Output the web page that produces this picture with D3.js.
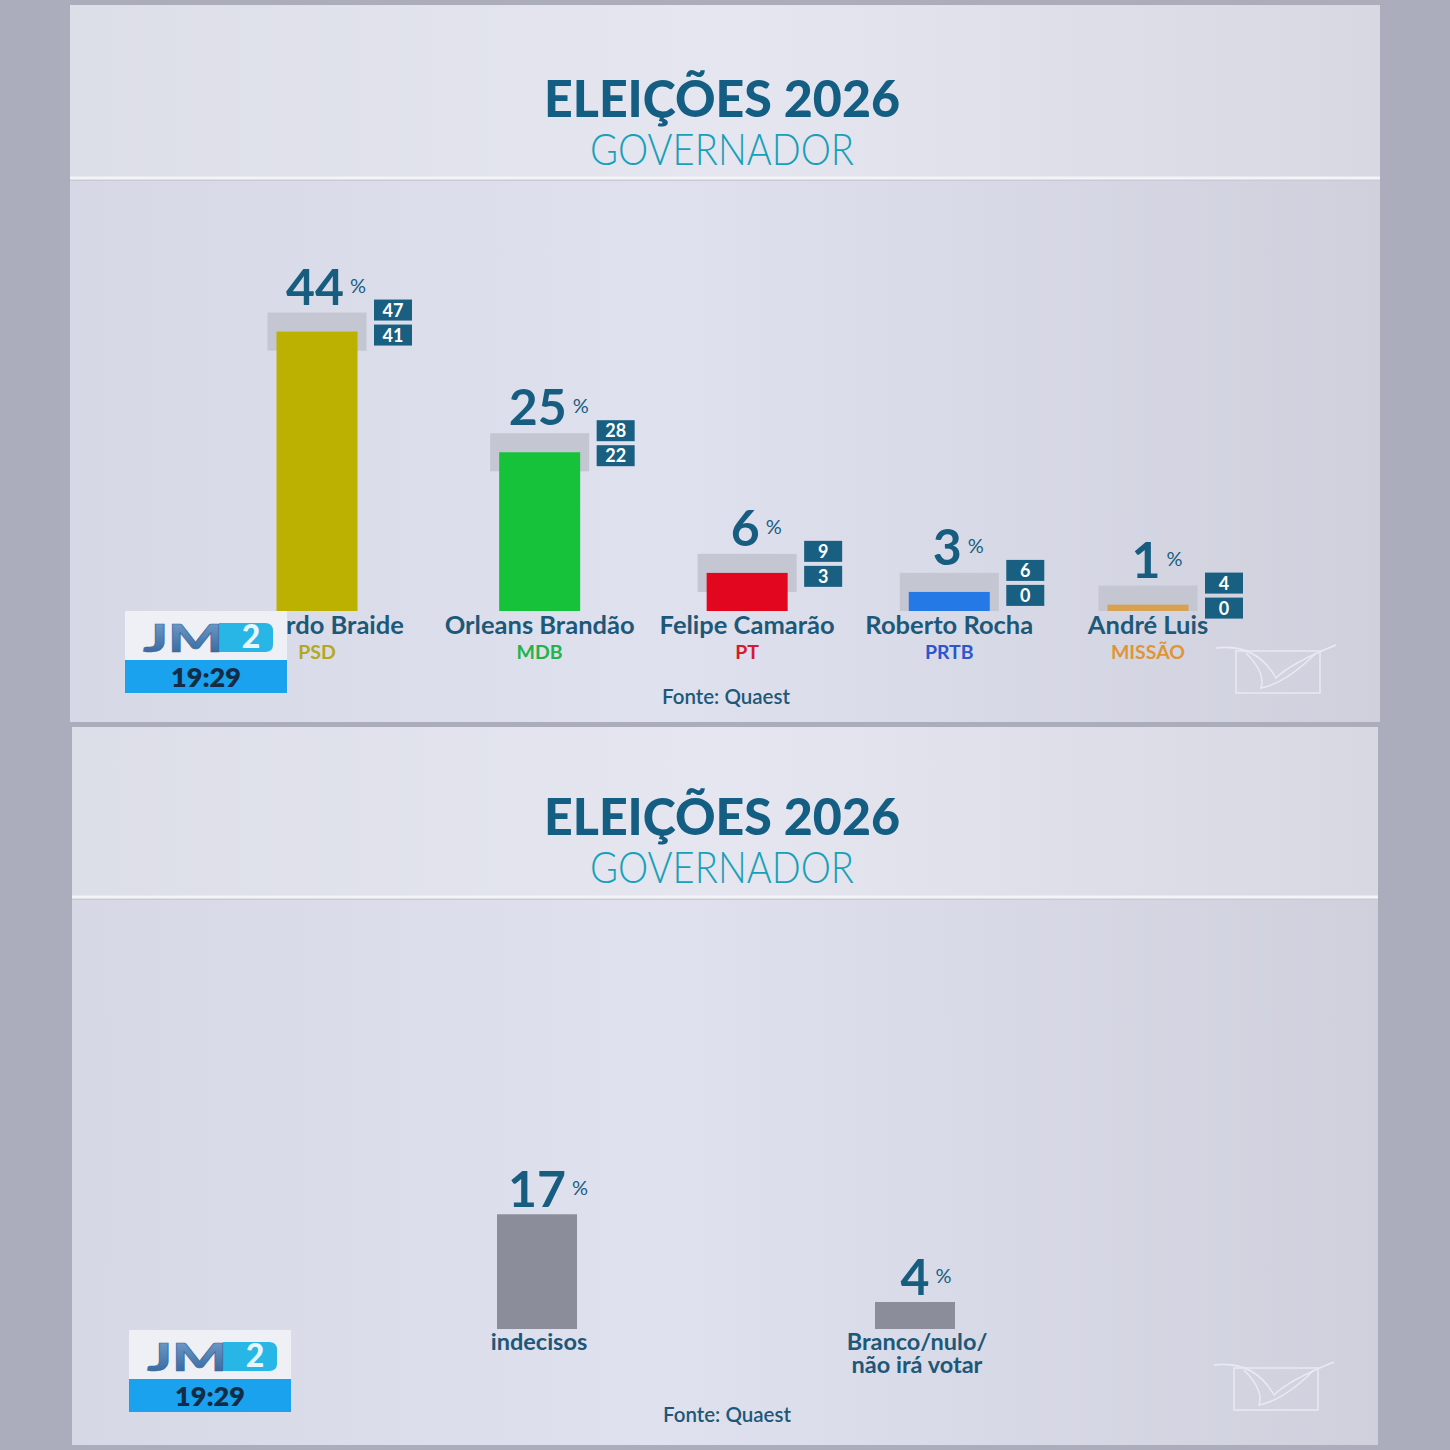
<!DOCTYPE html>
<html><head><meta charset="utf-8">
<script src="https://cdn.jsdelivr.net/npm/d3@7"></script>
<style>body{margin:0;background:#abadbd}svg{display:block}</style>
</head><body>
<svg id="c" width="1450" height="1450"></svg>
<script>
// ---- data ----
const candidates = ["Eduardo Braide","Orleans Brandão","Felipe Camarão","Roberto Rocha","André Luis"];
const parties = ["PSD","MDB","PT","PRTB","MISSÃO"];
const values = [44,25,6,3,1];
const upperBound = [47,28,9,6,4];
const lowerBound = [41,22,3,0,0];
const otherCats = ["indecisos","Branco/nulo/não irá votar"];
const otherLines = [["indecisos"],["Branco/nulo/","não irá votar"]];
const otherValues = [17,4];
const titleText = "ELEIÇÕES 2026";
const subtitleText = "GOVERNADOR";
const sourceText = "Fonte: Quaest";
const clockText = "19:29";

// ---- styles ----
const barColors = ["#bcb000","#17c23b","#e2061e","#2479e6","#d8a150"];
const partyColors = ["#b3a824","#22b34a","#d51a30","#2d55cc","#df9535"];
const navy = "#175d80";
const font = "Lato, 'Noto Sans', sans-serif";

const svg = d3.select("#c");
const defs = svg.append("defs");
const g1 = defs.append("linearGradient").attr("id","bg").attr("x1","0").attr("x2","1").attr("y1","0").attr("y2","0");
g1.append("stop").attr("offset","0").attr("stop-color","#d6d8e6");
g1.append("stop").attr("offset","0.45").attr("stop-color","#e0e1ef");
g1.append("stop").attr("offset","1").attr("stop-color","#cfd0dc");
const g2 = defs.append("linearGradient").attr("id","hd").attr("x1","0").attr("x2","1");
g2.append("stop").attr("offset","0").attr("stop-color","#dcdee8");
g2.append("stop").attr("offset","0.5").attr("stop-color","#e5e6f0");
g2.append("stop").attr("offset","1").attr("stop-color","#d7d8e2");
const g3 = defs.append("linearGradient").attr("id","jm").attr("x1","0").attr("x2","0").attr("y1","0").attr("y2","1");
g3.append("stop").attr("offset","0").attr("stop-color","#7aa6d2");
g3.append("stop").attr("offset","1").attr("stop-color","#2d5f97");

function panel(y0, y1, left, right, titleBase, divY) {
  svg.append("rect").attr("x",left).attr("y",y0).attr("width",right-left).attr("height",y1-y0).attr("fill","url(#bg)");
  svg.append("rect").attr("x",left).attr("y",y0).attr("width",right-left).attr("height",divY-y0).attr("fill","url(#hd)");
  svg.append("line").attr("x1",left).attr("x2",right).attr("y1",divY+2).attr("y2",divY+2).attr("stroke","#c8cad6").attr("stroke-width",2);
  svg.append("line").attr("x1",left).attr("x2",right).attr("y1",divY).attr("y2",divY).attr("stroke","#f3f4f8").attr("stroke-width",3);
  const cx = 722;
  svg.append("text").attr("x",cx).attr("y",titleBase).attr("text-anchor","middle")
    .attr("font-family",font).attr("font-weight",900).attr("font-size",52).attr("fill","#135e82")
    .attr("textLength",356).attr("lengthAdjust","spacingAndGlyphs").text(titleText);
  svg.append("text").attr("x",cx).attr("y",titleBase+48).attr("text-anchor","middle")
    .attr("font-family",font).attr("font-weight",300).attr("font-size",43).attr("fill","#18a0b8")
    .attr("textLength",264).attr("lengthAdjust","spacingAndGlyphs").text(subtitleText);
}
panel(5, 722, 70, 1380, 117, 178);
panel(727, 1445, 72, 1378, 835, 897);

function pctLabel(x, base, v, size) {
  const t = svg.append("text").attr("x",x).attr("y",base).attr("text-anchor","middle")
    .attr("font-family",font).attr("font-weight",700).attr("font-size",size).attr("fill",navy).text(v);
  const w = t.node().getComputedTextLength();
  svg.append("text").attr("x",x + w/2 + 6).attr("y",base-12).attr("font-family",font)
    .attr("font-size",20).attr("fill",navy).text("%");
}

// ---- top chart ----
const xTop = d3.scalePow().exponent(0.95).domain([0,4]).range([317,1148]);
const yTop = d3.scaleLinear().domain([0,50]).range([611, 611-317.5]);
const barW = 81, boxW = 99;
const gTop = svg.append("g");
candidates.forEach((c,i) => {
  const cx = xTop(i);
  gTop.append("rect").attr("x",cx-boxW/2).attr("y",yTop(upperBound[i])).attr("width",boxW)
    .attr("height",yTop(lowerBound[i])-yTop(upperBound[i])).attr("fill","#c4c6d1");
  gTop.append("rect").attr("x",cx-barW/2).attr("y",yTop(values[i])).attr("width",barW)
    .attr("height",yTop(0)-yTop(values[i])).attr("fill",barColors[i]);
  pctLabel(cx-2, yTop(upperBound[i])-8, values[i], 50);
  [upperBound[i], lowerBound[i]].forEach((b,k) => {
    const by = yTop(upperBound[i]) - 13 + k*25;
    gTop.append("rect").attr("x",cx+57).attr("y",by).attr("width",38).attr("height",21).attr("fill","#195f82");
    gTop.append("text").attr("x",cx+76).attr("y",by+17).attr("text-anchor","middle").attr("font-family",font)
      .attr("font-weight",700).attr("font-size",18).attr("fill","#fff").text(b);
  });
  gTop.append("text").attr("x",cx).attr("y",634).attr("text-anchor","middle").attr("font-family",font)
    .attr("font-weight",700).attr("font-size",25.5).attr("fill","#1d5878").text(c);
  gTop.append("text").attr("x",cx).attr("y",659).attr("text-anchor","middle").attr("font-family",font)
    .attr("font-weight",700).attr("font-size",19.5).attr("fill",partyColors[i]).text(parties[i]);
});
svg.append("text").attr("x",726).attr("y",704).attr("text-anchor","middle").attr("font-family",font)
  .attr("font-weight",600).attr("font-size",20.5).attr("fill","#1d5878").text(sourceText);

// ---- bottom chart ----
const xBot = d3.scalePoint().domain(otherCats).range([537,915]);
const yBot = d3.scaleLinear().domain([0,20]).range([1329, 1329-135]);
otherCats.forEach((c,i) => {
  const cx = xBot(c);
  svg.append("rect").attr("x",cx-40).attr("y",yBot(otherValues[i])).attr("width",80)
    .attr("height",yBot(0)-yBot(otherValues[i])).attr("fill","#8b8d9b");
  pctLabel(cx, yBot(otherValues[i])-7, otherValues[i], 50);
  const lbl = svg.append("text").attr("text-anchor","middle").attr("font-family",font)
    .attr("font-weight",700).attr("font-size",23.5).attr("fill","#1d5878");
  otherLines[i].forEach((ln,k) => {
    lbl.append("tspan").attr("x",cx+2).attr("y",yBot(0)+21+k*23).text(ln);
  });
});
svg.append("text").attr("x",727).attr("y",1422).attr("text-anchor","middle").attr("font-family",font)
  .attr("font-weight",600).attr("font-size",20.5).attr("fill","#1d5878").text(sourceText);

// ---- logos ----
function jmLogo(x, y) {
  const g = svg.append("g").attr("transform",`translate(${x},${y})`);
  g.append("rect").attr("width",162).attr("height",49).attr("fill","#eef0f5");
  g.append("rect").attr("y",49).attr("width",162).attr("height",33).attr("fill","#1ba2ef");
  g.append("text").attr("x",81).attr("y",76).attr("text-anchor","middle").attr("font-family",font)
    .attr("font-weight",800).attr("font-size",27).attr("fill","#122c45").text(clockText);
  g.append("path").attr("d","M94,12 L140,12 Q148,12 148,20 L148,34 Q148,41 140,41 L92,41 Z").attr("fill","#27b6e6");
  g.append("text").attr("x",18).attr("y",41).attr("font-family",font).attr("font-weight",900)
    .attr("font-size",38).attr("fill","url(#jm)").attr("stroke","#3c6a9c").attr("stroke-width",0.6)
    .attr("textLength",80).attr("lengthAdjust","spacingAndGlyphs").text("JM");
  g.append("text").attr("x",126).attr("y",37).attr("text-anchor","middle").attr("font-family",font)
    .attr("font-weight",900).attr("font-size",32).attr("fill","#e8f6fc").text("2");
}
jmLogo(125, 611);
jmLogo(129, 1330);

function watermark(x, y) {
  const g = svg.append("g").attr("transform",`translate(${x},${y})`).attr("fill","none")
    .attr("stroke","#eef0f6").attr("stroke-width",1.5).attr("opacity",0.8);
  g.append("rect").attr("x",0).attr("y",8).attr("width",84).attr("height",42);
  g.append("path").attr("d","M-20,5 Q20,0 40,35 Q55,20 100,2");
  g.append("path").attr("d","M10,10 Q30,30 25,45 Q50,40 80,10");
}
watermark(1236, 643);
watermark(1234, 1360);
</script>
</body></html>
